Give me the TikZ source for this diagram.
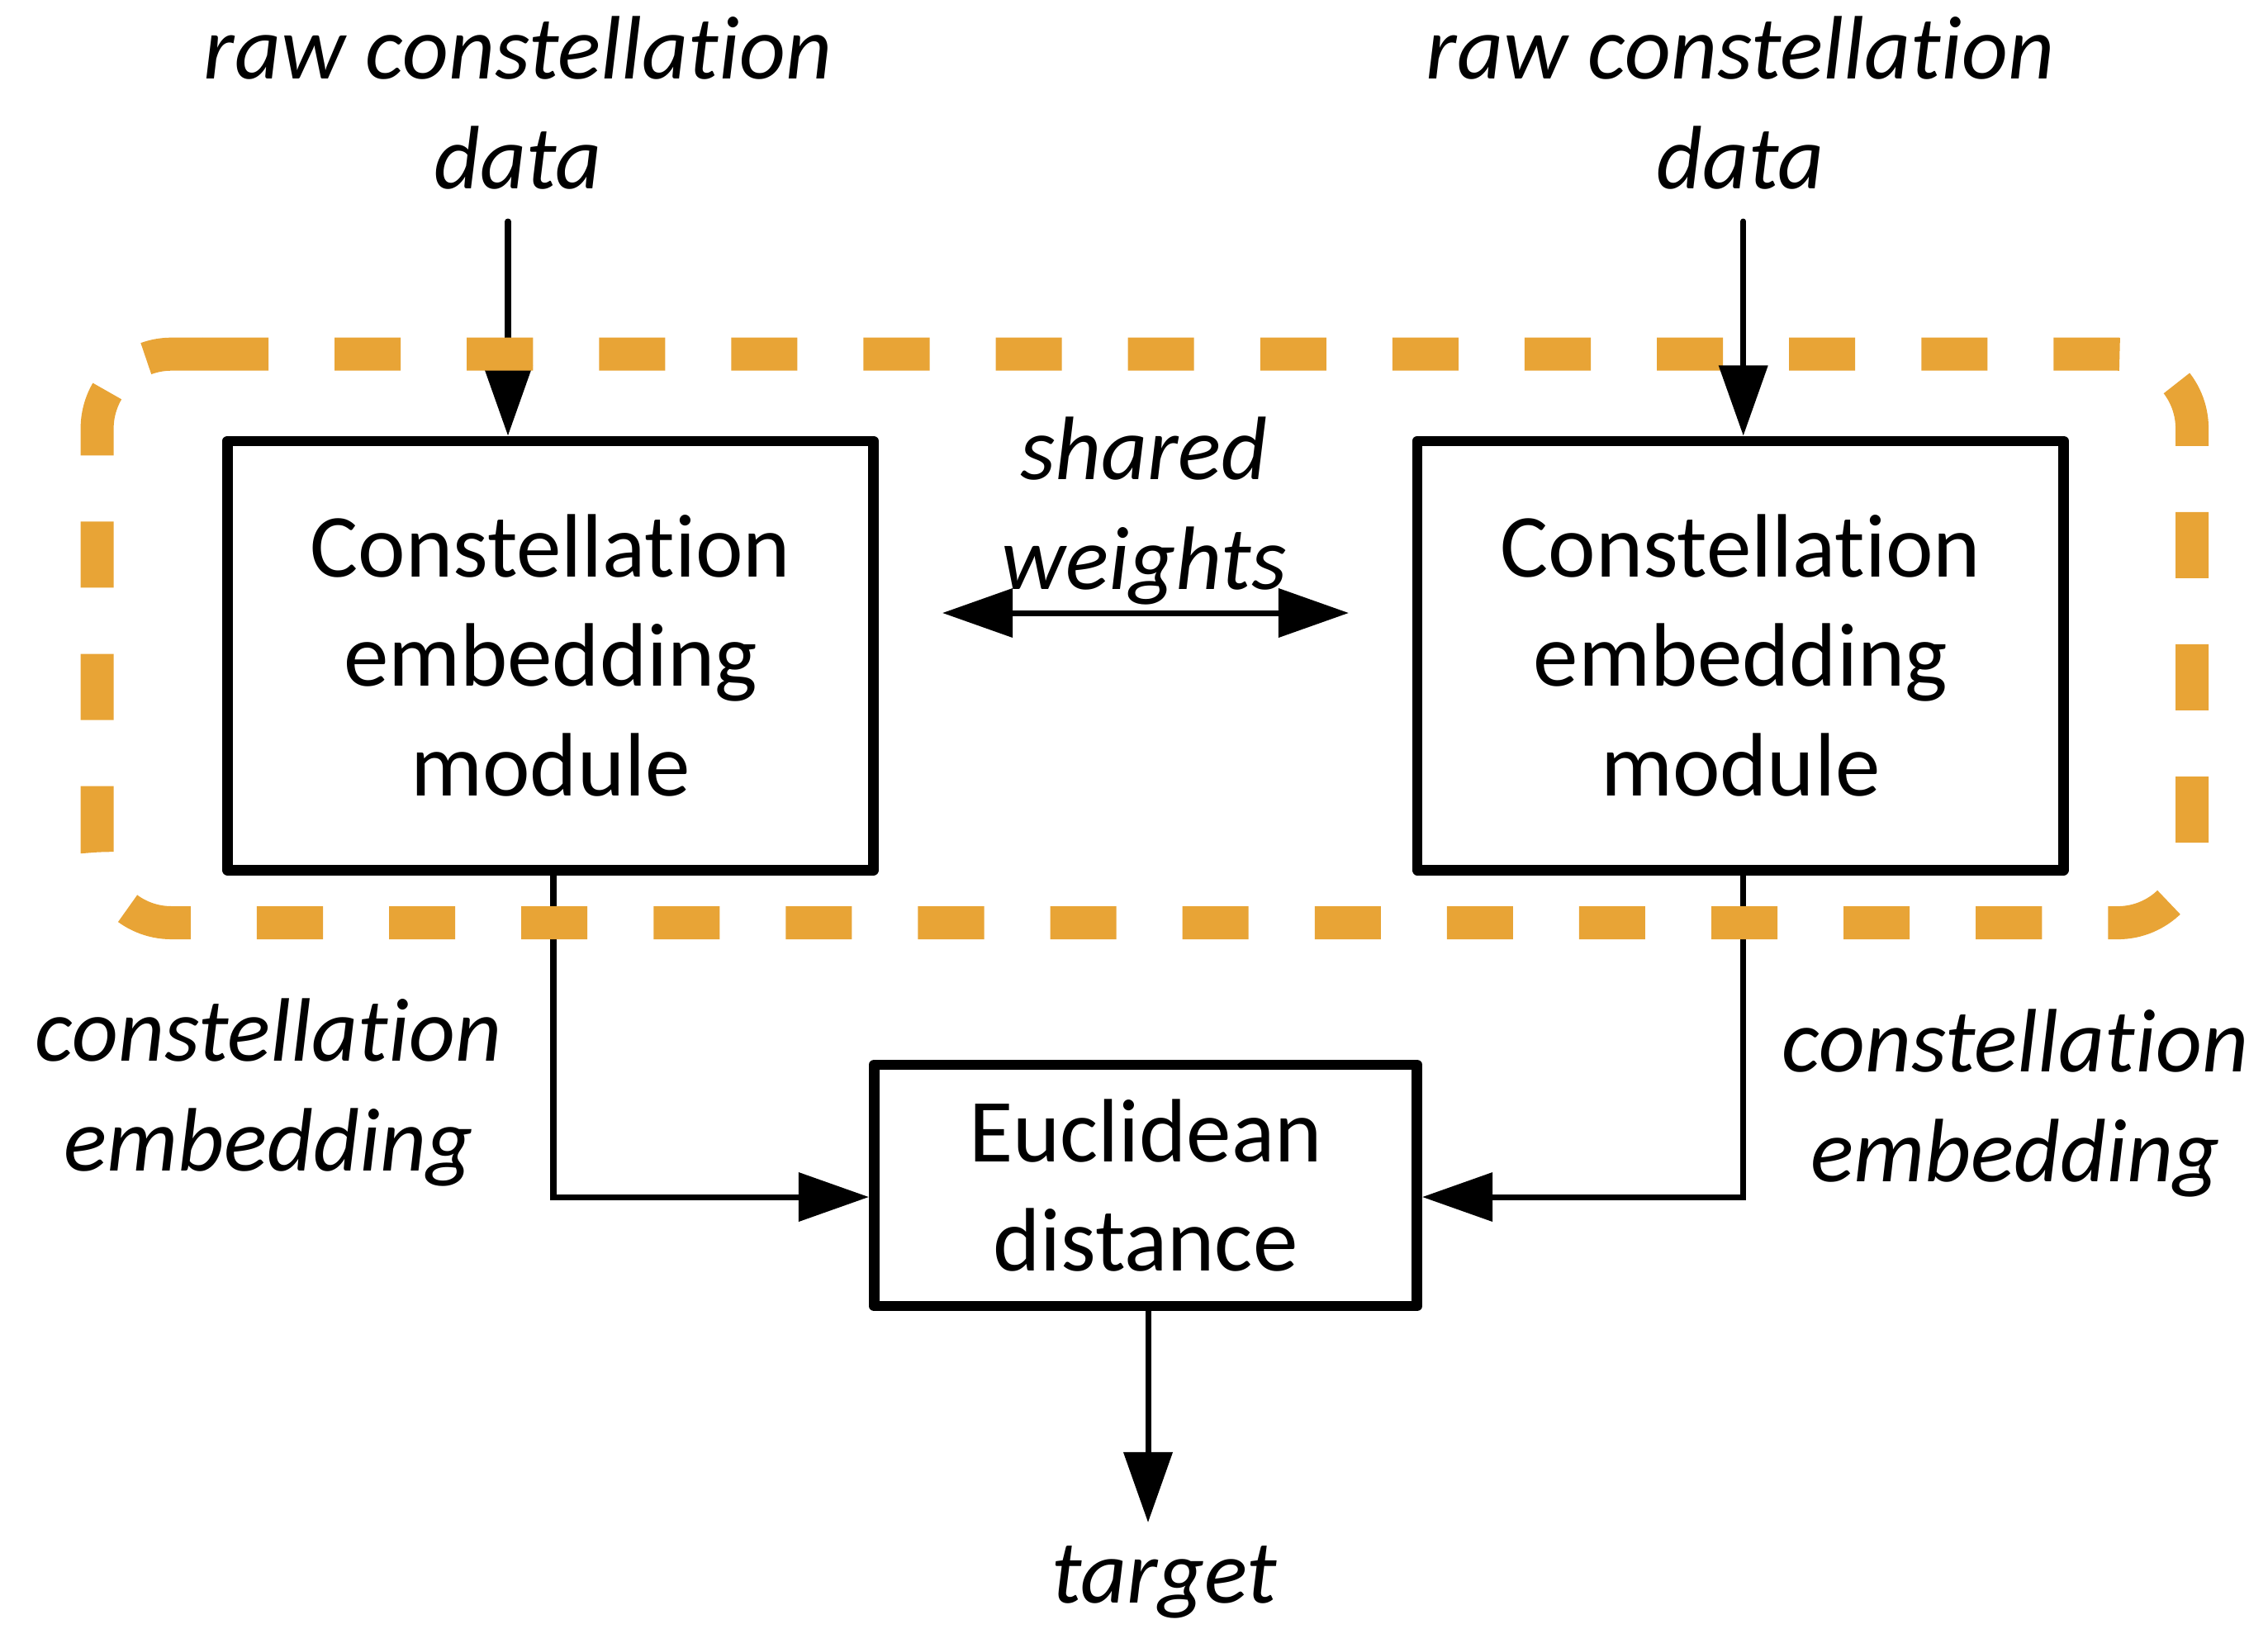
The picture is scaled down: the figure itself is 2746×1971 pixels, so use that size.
\documentclass[tikz,border=0pt]{standalone}
\usepackage{fontspec}
\setmainfont{Carlito}[Ligatures=NoCommon]
\usetikzlibrary{arrows.meta}
\definecolor{grouporange}{RGB}{232,164,54}
\begin{document}
\begin{tikzpicture}[x=0.01cm,y=-0.01cm,
  >={Triangle[length=0.85cm,width=0.58cm]},
  every node/.style={font=\fontsize{31}{37.7}\selectfont},
  module/.style={draw,line width=3.6pt,line join=round,inner sep=0pt,align=center},
  lbl/.style={font=\fontsize{31}{37.7}\selectfont\itshape,align=center,inner sep=0pt,anchor=base},
  conn/.style={line width=2pt,line cap=round,->},
  groupline/.style={draw=grouporange,line width=0.4cm},
  group/.style={groupline,dash pattern=on 0.8cm off 0.8cm,dash phase=0.912cm}
]
\useasboundingbox (0,0) rectangle (2746,1971);

% processing blocks
\node[module,minimum width=7.82cm,minimum height=5.19cm] (L) at (666.5,793.5) {Constellation\\embedding\\module};
\node[module,minimum width=7.82cm,minimum height=5.19cm] (R) at (2107.3,793.5) {Constellation\\embedding\\module};
\node[module,minimum width=6.57cm,minimum height=2.92cm] (E) at (1387,1435) {Euclidean\\distance};

% labels
\node[lbl] (rawL) at (627,228) {raw constellation\\data};
\node[lbl] (rawR) at (2107,228) {raw constellation\\data};
\node[lbl] (shw) at (1385,713) {shared\\weights};
\node[lbl] (embL) at (325,1417) {constellation\\embedding};
\node[lbl] (embR) at (2440,1430) {constellation\\embedding};
\node[lbl] (tgtlbl) at (1410,1940) {target};

% connector end points
\coordinate (inL) at (615,268);
\coordinate (inR) at (2110.7,268);
\coordinate (oL) at (670,1449);
\coordinate (oR) at (2110.7,1449);
\coordinate (swA) at (1141,742);
\coordinate (swB) at (1633,742);
\coordinate (tgt) at (1390,1843);

% embeddings into the distance block
\draw[conn] (oL |- L.south) -- (oL) -- (oL -| E.west);
\draw[conn] (oR |- R.south) -- (oR) -- (oR -| E.east);
\draw[conn] (E.south -| tgt) -- (tgt);
\draw[conn] (inL) -- (inL |- L.north);

% shared-weight group outline (rounded rectangle, drawn clockwise from the top-left corner)
\coordinate (gA) at (176.8,434.1);
\draw[group] (gA) arc[start angle=110,end angle=90,radius=0.9cm]
  -- (2564,428.7) arc[start angle=90,end angle=0,radius=0.9cm]
  -- (2654,1027) arc[start angle=0,end angle=-90,radius=0.9cm]
  -- (207.6,1117) arc[start angle=-90,end angle=-180,radius=0.9cm]
  -- (117.6,518.7) arc[start angle=180,end angle=110,radius=0.9cm];
% longer first dash at the seam
\draw[groupline] (gA) arc[start angle=110,end angle=90,radius=0.9cm] -- (245,428.7);

\draw[conn] (inR) -- (inR |- R.north);
\draw[conn,<->] (swA) -- (swB);
\end{tikzpicture}
\end{document}
